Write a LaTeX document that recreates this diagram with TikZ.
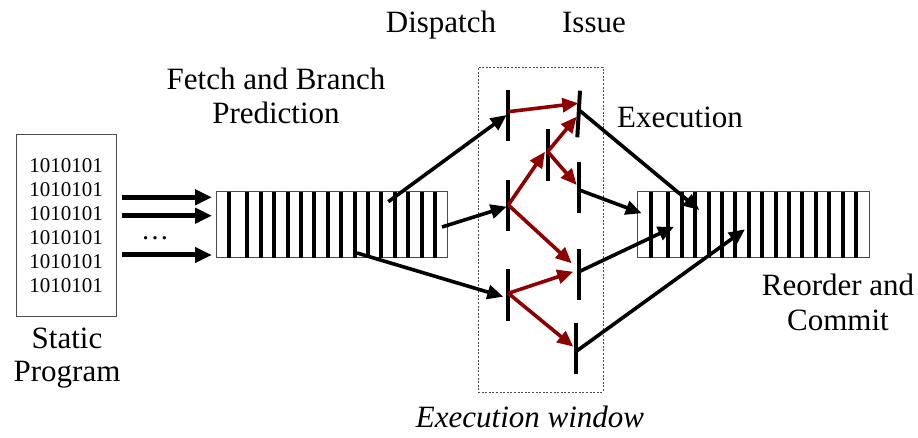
\documentclass[tikz,border=0pt]{standalone}
\usepackage{fontspec}
\setmainfont{Liberation Serif}
\usetikzlibrary{arrows.meta}
\definecolor{pathred}{RGB}{140,0,0}
\begin{document}
\begin{tikzpicture}[x=1pt,y=-1pt,
  lbl/.style={font=\fontsize{31}{36}\selectfont, anchor=base, inner sep=0pt},
  bits/.style={font=\fontsize{21}{24}\selectfont, anchor=base, inner sep=0pt},
  frame/.style={draw=black!70, line width=0.8pt, inner sep=0pt},
  slot/.style={line width=4pt},
  stagebar/.style={line width=4pt},
  feed/.style={line width=5pt, -{Triangle[length=17pt,width=15pt]}},
  flow/.style={line width=3.6pt, -{Triangle[length=16pt,width=14pt]}},
  spec/.style={flow, draw=pathred, -{Triangle[length=16pt,width=14pt,fill=pathred]}},
  window/.style={draw=black!70, line width=0.7pt, dash pattern=on 2pt off 1.6pt}]
\useasboundingbox (0,0) rectangle (918,438);

% static program
\node[frame, minimum width=100pt, minimum height=182.7pt] (prog) at (66.7,225.3) {};
\foreach \k in {0,...,5}
  \node[bits] (bit\k) at (66,173+24*\k) {1010101};
\node[lbl] (static) at (67,348) {Static};
\node[lbl] (program) at (67,381) {Program};

% fetch arrows
\coordinate (f1s) at (122,197.3); \coordinate (f1e) at (212,197.3);
\coordinate (f2s) at (122,215.7); \coordinate (f2e) at (212,215.7);
\coordinate (f3s) at (122,255);   \coordinate (f3e) at (212,255);
\draw[feed] (f1s) -- (f1e);
\draw[feed] (f2s) -- (f2e);
\draw[feed] (f3s) -- (f3e);
\node[bits, font=\fontsize{28}{30}\selectfont] (dots) at (155,240) {…};

% fetch buffer and reorder buffer
\node[frame, minimum width=230.6pt, minimum height=66pt] (fb) at (332,224.7) {};
\node[frame, minimum width=231.7pt, minimum height=66pt] (rb) at (753.2,224.7) {};
\draw[slot] (229.3,191.7) -- (229.3,257.7);
\foreach \k in {0,...,14} \draw[slot] (247.3+13.41*\k,191.7) -- (247.3+13.41*\k,257.7);
\draw[slot] (650.7,191.7) -- (650.7,257.7);
\foreach \k in {0,...,14} \draw[slot] (668.3+13.41*\k,191.7) -- (668.3+13.41*\k,257.7);

% execution window
\node[window, minimum width=125pt, minimum height=325pt, inner sep=0pt] (win) at (540.5,229.5) {};

% dispatch and issue latches
\coordinate (d1t) at (508.3,90);    \coordinate (d1b) at (508.3,140.7);
\coordinate (d2t) at (508.3,180);   \coordinate (d2b) at (508.3,231);
\coordinate (d3t) at (508.3,269.3); \coordinate (d3b) at (508.3,320.7);
\coordinate (mt) at (547.7,129.3);  \coordinate (mb) at (547.7,180.7);
\coordinate (i1t) at (580,90.7);    \coordinate (i1b) at (577.3,137.3);
\coordinate (i2t) at (579.3,162.3); \coordinate (i2b) at (579.3,213.3);
\coordinate (i3t) at (579,249.3);   \coordinate (i3b) at (579,300);
\coordinate (i4t) at (575.7,323.3); \coordinate (i4b) at (575.7,374);
\foreach \b in {d1,d2,d3,m,i1,i2,i3,i4}
  \draw[stagebar] (\b t) -- (\b b);

% connection points
\coordinate (fbA) at (388.3,201.7);
\coordinate (fbB) at (442,227);
\coordinate (fbC) at (357,253);
\coordinate (d1in) at (506.7,115);
\coordinate (d2in) at (506.7,206.7);
\coordinate (d3in) at (503.3,296.7);
\coordinate (d1out) at (508.3,111.7);
\coordinate (d2out) at (508.3,205);
\coordinate (d3out) at (508.3,293.3);
\coordinate (mio) at (547.7,151.7);
\coordinate (min) at (545,151.7);
\coordinate (i1inA) at (578.3,103.3);
\coordinate (i1inB) at (576.7,116.7);
\coordinate (i2in) at (576.7,185);
\coordinate (i3inA) at (571.7,263.3);
\coordinate (i3inB) at (573.3,271.7);
\coordinate (i4in) at (573.3,346.7);
\coordinate (i1out) at (579,110);
\coordinate (i2out) at (579.3,190);
\coordinate (i3out) at (579,271.7);
\coordinate (i4out) at (575.7,351.7);
\coordinate (rbA) at (699.3,210);
\coordinate (rbB) at (641.7,213.3);
\coordinate (rbC) at (674,226.7);
\coordinate (rbD) at (745,229.3);

% dispatch
\draw[flow] (fbA) -- (d1in);
\draw[flow] (fbB) -- (d2in);
\draw[flow] (fbC) -- (d3in);

% speculative paths inside the window
\draw[spec] (d1out) -- (i1inA);
\draw[spec] (d2out) -- (min);
\draw[spec] (mio) -- (i1inB);
\draw[spec] (mio) -- (i2in);
\draw[spec] (d2out) -- (i3inA);
\draw[spec] (d3out) -- (i3inB);
\draw[spec] (d3out) -- (i4in);

% completion into the reorder buffer
\draw[flow] (i1out) -- (rbA);
\draw[flow] (i2out) -- (rbB);
\draw[flow] (i3out) -- (rbC);
\draw[flow] (i4out) -- (rbD);

% labels
\node[lbl] (dispatch) at (441,33) {Dispatch};
\node[lbl] (issue) at (594,33) {Issue};
\node[lbl] (fetch1) at (276,90) {Fetch and Branch};
\node[lbl] (fetch2) at (276,124) {Prediction};
\node[lbl] (exec) at (680,128) {Execution};
\node[lbl] (reorder1) at (838,295) {Reorder and};
\node[lbl] (reorder2) at (838,330) {Commit};
\node[lbl, font=\fontsize{31}{36}\selectfont\itshape] (winlbl) at (530,427) {Execution window};
\end{tikzpicture}
\end{document}
